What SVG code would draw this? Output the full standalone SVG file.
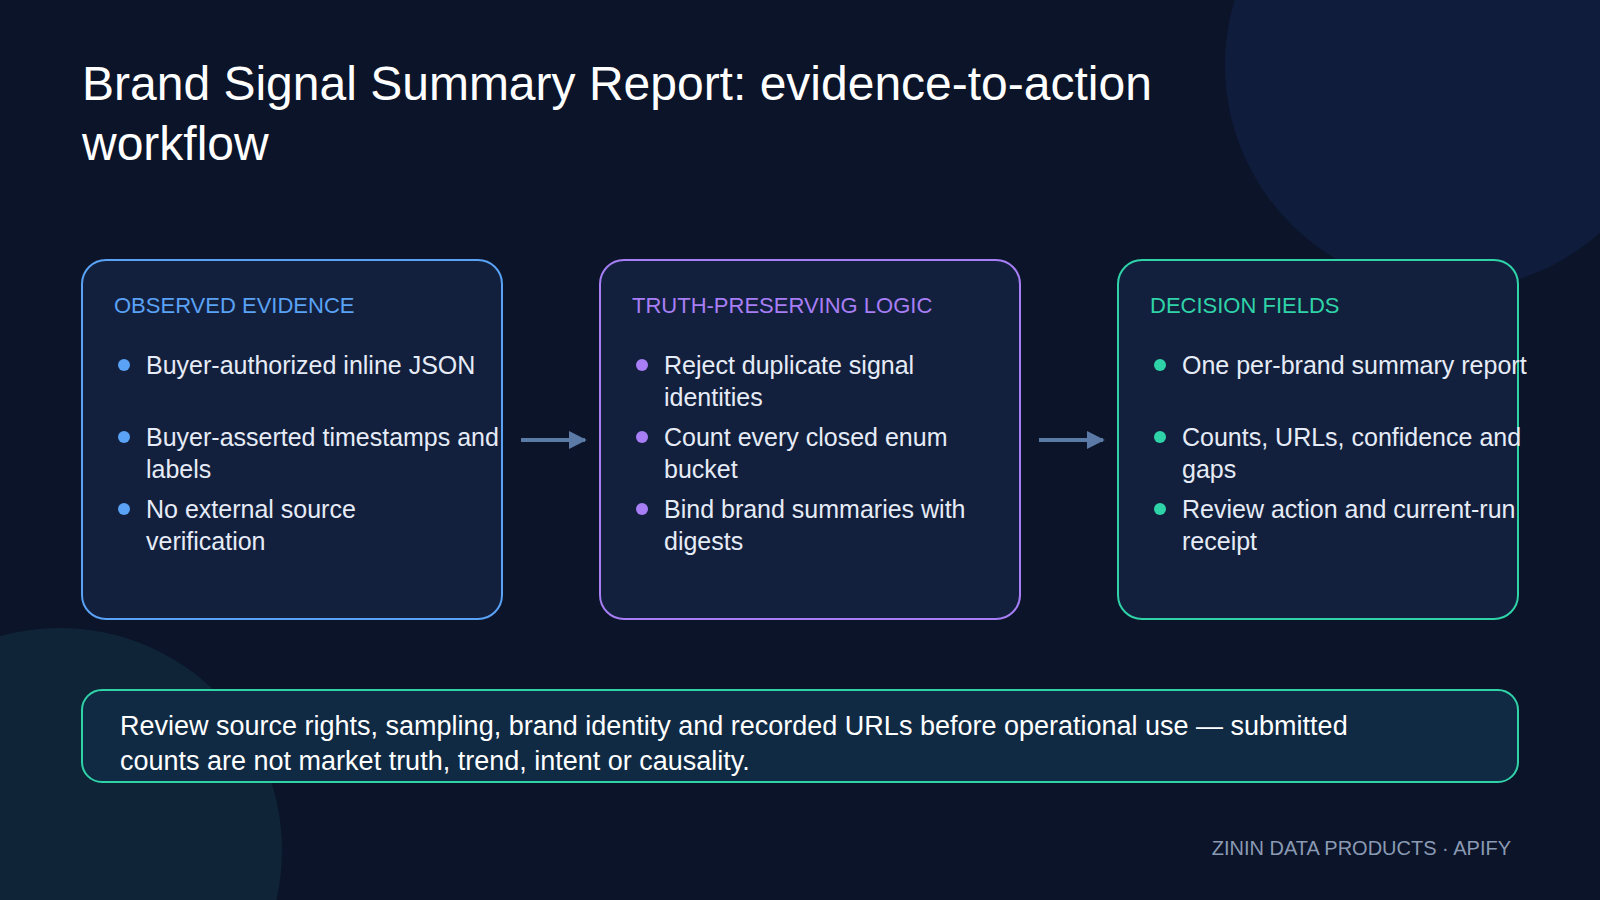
<svg xmlns="http://www.w3.org/2000/svg" width="1600" height="900" viewBox="0 0 1600 900">
<style>
text{font-family:"Liberation Sans","Arial",sans-serif}
.t{fill:#fff;font-size:48px}
.h{font-size:22px}
.b{fill:#e6ecf7;font-size:25px}
.box{fill:#13203d;stroke-width:2}
</style>
<defs>
<marker id="ar" viewBox="0 0 10 10" refX="9" refY="5" markerWidth="4.5" markerHeight="5" orient="auto"><path d="M0,0L10,5L0,10z" fill="#5c7aa6"/></marker>
</defs>
<rect width="1600" height="900" fill="#0b1429"/>
<circle cx="1450" cy="65" r="225" fill="#12224a" opacity="0.6"/>
<circle cx="60" cy="850" r="222" fill="#10283a" opacity="0.8"/>
<text class="t" x="82" y="100">Brand Signal Summary Report: evidence-to-action</text>
<text class="t" x="82" y="160">workflow</text>
<g id="connectors" stroke="#5c7aa6" stroke-width="4" fill="none">
<line x1="521" y1="440" x2="585" y2="440" marker-end="url(#ar)"/>
<line x1="1039" y1="440" x2="1103" y2="440" marker-end="url(#ar)"/>
</g>
<g id="observed">
<rect class="box" x="82" y="260" width="420" height="359" rx="24" stroke="#5aa2f5"/>
<text class="h" x="114" y="313" fill="#5aa2f5">OBSERVED EVIDENCE</text>
<g fill="#5aa2f5"><circle cx="124" cy="365" r="6"/><circle cx="124" cy="437" r="6"/><circle cx="124" cy="509" r="6"/></g>
<text class="b" x="146" y="374">Buyer-authorized inline JSON</text>
<text class="b" x="146" y="446">Buyer-asserted timestamps and</text>
<text class="b" x="146" y="478">labels</text>
<text class="b" x="146" y="518">No external source</text>
<text class="b" x="146" y="550">verification</text>
</g>
<g id="logic">
<rect class="box" x="600" y="260" width="420" height="359" rx="24" stroke="#a77ef5"/>
<text class="h" x="632" y="313" fill="#a77ef5">TRUTH-PRESERVING LOGIC</text>
<g fill="#a77ef5"><circle cx="642" cy="365" r="6"/><circle cx="642" cy="437" r="6"/><circle cx="642" cy="509" r="6"/></g>
<text class="b" x="664" y="374">Reject duplicate signal</text>
<text class="b" x="664" y="406">identities</text>
<text class="b" x="664" y="446">Count every closed enum</text>
<text class="b" x="664" y="478">bucket</text>
<text class="b" x="664" y="518">Bind brand summaries with</text>
<text class="b" x="664" y="550">digests</text>
</g>
<g id="decision">
<rect class="box" x="1118" y="260" width="400" height="359" rx="24" stroke="#2fd3a8"/>
<text class="h" x="1150" y="313" fill="#2fd3a8">DECISION FIELDS</text>
<g fill="#2fd3a8"><circle cx="1160" cy="365" r="6"/><circle cx="1160" cy="437" r="6"/><circle cx="1160" cy="509" r="6"/></g>
<text class="b" x="1182" y="374">One per-brand summary report</text>
<text class="b" x="1182" y="446">Counts, URLs, confidence and</text>
<text class="b" x="1182" y="478">gaps</text>
<text class="b" x="1182" y="518">Review action and current-run</text>
<text class="b" x="1182" y="550">receipt</text>
</g>
<g id="note">
<rect x="82" y="690" width="1436" height="92" rx="20" fill="#112a44" stroke="#2fd3a8" stroke-width="2"/>
<text x="120" y="735" fill="#fff" font-size="27">Review source rights, sampling, brand identity and recorded URLs before operational use — submitted</text>
<text x="120" y="770" fill="#fff" font-size="27">counts are not market truth, trend, intent or causality.</text>
</g>
<text x="1511" y="855" text-anchor="end" fill="#8a9ab3" font-size="20">ZININ DATA PRODUCTS · APIFY</text>
</svg>
